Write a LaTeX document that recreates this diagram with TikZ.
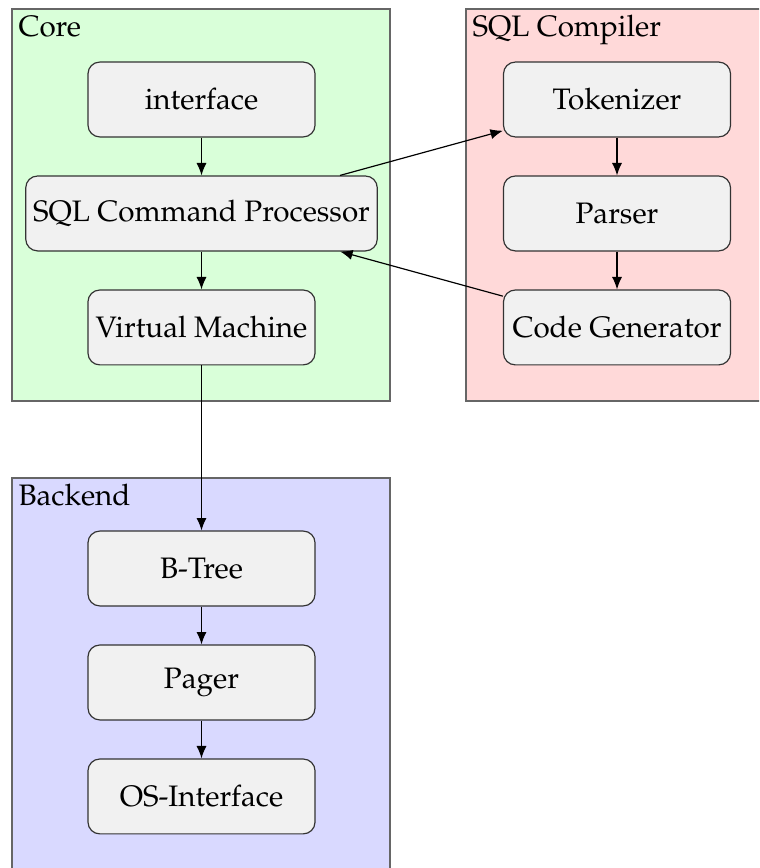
\documentclass[tikz,border=0pt]{standalone}
\usepackage[T1]{fontenc}
\usepackage{mathpazo}
\usepackage{tikz}
\usetikzlibrary{positioning,arrows.meta}
\definecolor{corebg}{RGB}{217,255,217}
\definecolor{compilerbg}{RGB}{255,217,217}
\definecolor{backendbg}{RGB}{217,217,255}
\definecolor{blockbg}{RGB}{241,241,241}
\tikzset{
  layer/.style={draw=black!60,line width=0.5pt},
  layertitle/.style={anchor=north west,inner sep=2pt},
  block/.style={draw=black!80,fill=blockbg,rounded corners=4pt,
    minimum width=76.7pt,minimum height=25.3pt,inner sep=2.5pt},
  flow/.style={-{Latex[length=4.2pt,width=3.4pt]}}
}

\begin{document}
\begin{tikzpicture}[x=0.3378pt,y=-0.3378pt,node distance=12.8pt]
\useasboundingbox (0,0) rectangle (759,868);
\clip (0,0) rectangle (759,868);
% layers
\draw[layer,fill=corebg] (12,9) rectangle (390,401);
\fill[compilerbg] (466,9) rectangle (800,401);
\draw[layer] (800,9) -- (466,9) -- (466,401) -- (800,401);
\fill[backendbg] (12,478) rectangle (390,900);
\draw[layer] (12,900) -- (12,478) -- (390,478) -- (390,900);
\node[layertitle] (coretitle) at (12,9) {Core};
\node[layertitle] (compilertitle) at (466,9) {SQL Compiler};
\node[layertitle] (backendtitle) at (12,478) {Backend};
% core
\node[block] (iface) at (201.5,99.5) {interface};
\node[block,below=of iface] (proc) {SQL Command Processor};
\node[block,below=of proc] (vm) {Virtual Machine};
% compiler
\node[block] (tok) at (617,99.5) {Tokenizer};
\node[block,below=of tok] (parser) {Parser};
\node[block,below=of parser] (codegen) {Code Generator};
% backend
\node[block] (btree) at (201.5,568.5) {B-Tree};
\node[block,below=of btree] (pager) {Pager};
\node[block,below=of pager] (osif) {OS-Interface};
% connections
\draw[flow] (iface) -- (proc);
\draw[flow] (proc) -- (vm);
\draw[flow] (vm) -- (btree);
\draw[flow] (btree) -- (pager);
\draw[flow] (pager) -- (osif);
\draw[flow] (tok) -- (parser);
\draw[flow] (parser) -- (codegen);
\draw[flow] (proc) -- (tok);
\draw[flow] (codegen) -- (proc);
\end{tikzpicture}
\end{document}
